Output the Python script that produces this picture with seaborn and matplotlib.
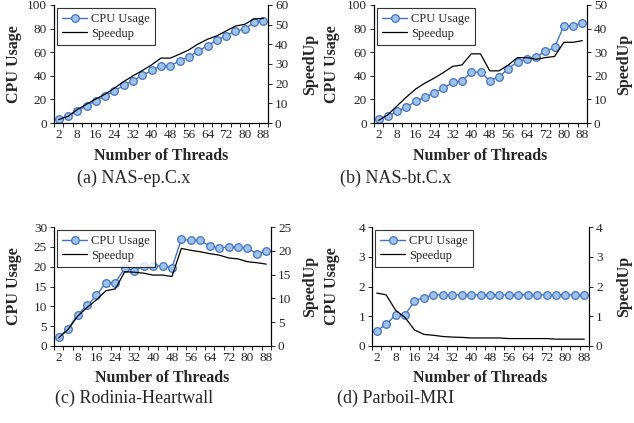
import matplotlib
matplotlib.use('Agg')
import matplotlib.pyplot as plt
import seaborn as sns
import numpy as np

# --- Data ---
threads = [2, 4, 8, 12, 16, 20, 24, 28, 32, 36, 40, 44,
           48, 52, 56, 60, 64, 68, 72, 76, 80, 84, 88]
tick_labels = [2, 8, 16, 24, 32, 40, 48, 56, 64, 72, 80, 88]

ep_cpu = [3.7, 5.6, 9.9, 14.6, 18.9, 23.0, 27.3, 31.8, 36.0, 40.3, 44.5, 48.5,
          48.5, 52.7, 56.3, 61.0, 65.6, 70.0, 74.0, 78.0, 79.4, 85.6, 86.8]
ep_speedup = [1.7, 3.4, 6.8, 9.6, 12.2, 14.7, 17.7, 21.1, 24.0, 26.7, 29.6, 33.0,
              33.0, 35.0, 37.2, 40.2, 42.6, 44.3, 46.8, 49.3, 50.2, 52.9, 53.2]

bt_cpu = [3.7, 5.6, 9.9, 13.5, 18.3, 22.0, 25.4, 29.6, 34.4, 35.8, 42.8, 43.4,
          35.8, 39.4, 45.9, 52.1, 54.4, 56.3, 60.6, 64.0, 82.5, 82.5, 85.0]
bt_speedup = [1.1, 3.5, 7.3, 11.0, 14.4, 16.9, 19.0, 21.4, 24.0, 24.6, 29.3, 29.3,
              22.1, 22.1, 24.6, 27.7, 27.7, 27.0, 27.7, 28.2, 34.2, 34.2, 34.9]

hw_cpu = [2.3, 4.3, 7.9, 10.25, 12.75, 16.0, 16.0, 19.6, 18.9, 20.25, 20.2, 20.2,
          19.75, 26.9, 26.6, 26.6, 25.2, 24.7, 25.0, 25.0, 24.7, 23.2, 23.9]
hw_speedup = [1.7, 3.5, 6.25, 8.1, 9.7, 11.6, 12.0, 15.6, 15.5, 15.3, 14.9, 14.9,
              14.6, 20.5, 20.1, 19.8, 19.4, 19.1, 18.5, 18.3, 17.7, 17.5, 17.2]

mri_cpu = [0.51, 0.73, 1.04, 1.04, 1.52, 1.63, 1.72, 1.72, 1.72, 1.72, 1.72, 1.72,
           1.72, 1.72, 1.72, 1.72, 1.72, 1.72, 1.72, 1.72, 1.72, 1.72, 1.72]
mri_speedup = [1.78, 1.72, 1.20, 0.96, 0.54, 0.39, 0.36, 0.32, 0.30, 0.29, 0.27, 0.27,
               0.27, 0.27, 0.25, 0.25, 0.25, 0.25, 0.25, 0.23, 0.23, 0.23, 0.23]

captions = ['(a) NAS-ep.C.x', '(b) NAS-bt.C.x',
            '(c) Rodinia-Heartwall', '(d) Parboil-MRI']

panels = [
    (ep_cpu, ep_speedup, (0, 100, 20), (0, 60, 10)),
    (bt_cpu, bt_speedup, (0, 100, 20), (0, 50, 10)),
    (hw_cpu, hw_speedup, (0, 30, 5), (0, 25, 5)),
    (mri_cpu, mri_speedup, (0, 4, 1), (0, 4, 1)),
]

sns.set_theme(style='white')
plt.rcParams['font.family'] = ['Liberation Serif', 'DejaVu Serif']
plt.rcParams['axes.linewidth'] = 0.8

W, H = 634, 423
fig = plt.figure(figsize=(W / 100, H / 100), dpi=100)

# axes boxes in pixels: left, top, right, bottom
boxes = [(54, 5, 268, 123), (374, 5, 587, 123),
         (54, 227, 271, 346), (372, 227, 589, 346)]
cap_pos = [(134, 178), (396, 178), (134, 398), (396, 398)]
# x pixel centre of the left / right y labels
ylab_x = [(14, 310), (332, 624), (14, 310), (332, 624)]

line_blue = '#4472C4'
face_blue = '#9DC3E6'

xpos = np.arange(len(threads))

for i, (cpu, spd, lrng, rrng) in enumerate(panels):
    l, t, r, b = boxes[i]
    ax = fig.add_axes([l / W, 1 - b / H, (r - l) / W, (b - t) / H])
    ax2 = ax.twinx()

    sns.lineplot(x=xpos, y=cpu, ax=ax, color=line_blue, lw=1.0,
                 marker='o', markersize=5.5, markerfacecolor=face_blue,
                 markeredgecolor=line_blue, markeredgewidth=0.9,
                 label='CPU Usage', legend=False)
    sns.lineplot(x=xpos, y=spd, ax=ax2, color='black', lw=0.9,
                 label='Speedup', legend=False)

    ax.set_xlim(-0.5, len(threads) - 0.5)
    ax.set_ylim(lrng[0], lrng[1])
    ax2.set_ylim(rrng[0], rrng[1])
    ax.set_yticks(np.arange(lrng[0], lrng[1] + 0.001, lrng[2]))
    ax2.set_yticks(np.arange(rrng[0], rrng[1] + 0.001, rrng[2]))
    ax.set_xticks(xpos[::2])
    ax.set_xticklabels([str(v) for v in tick_labels])
    ax.set_xticks(np.arange(-0.5, len(threads), 1), minor=True)

    for a in (ax, ax2):
        a.spines['top'].set_visible(False)
        for s in ('left', 'right', 'bottom'):
            a.spines[s].set_color('black')
            a.spines[s].set_linewidth(0.8)
    ax.tick_params(axis='x', which='major', length=0, labelsize=9.5, pad=4)
    ax.tick_params(axis='x', which='minor', length=3, width=0.6, color='black',
                   bottom=True)
    ax.tick_params(axis='y', length=3, width=0.6, color='black', left=True,
                   labelsize=9.5, pad=2)
    ax2.tick_params(axis='y', length=3, width=0.6, color='black', right=True,
                    labelsize=9.5, pad=2)

    ax.set_xlabel('Number of Threads', fontsize=11.5, fontweight='bold',
                  labelpad=5)
    ax.set_ylabel('CPU Usage', fontsize=11.5, fontweight='bold')
    ax2.set_ylabel('SpeedUp', fontsize=11.5, fontweight='bold')
    ax.yaxis.set_label_coords((ylab_x[i][0] - l) / (r - l), 0.5)
    ax2.yaxis.set_label_coords((ylab_x[i][1] - l) / (r - l), 0.5)
    ax.yaxis.label.set_va('center')
    ax2.yaxis.label.set_va('center')

    h1, l1 = ax.get_legend_handles_labels()
    h2, l2 = ax2.get_legend_handles_labels()
    leg = ax2.legend(h1 + h2, l1 + l2, loc='upper left', fontsize=9,
                     frameon=True, fancybox=False, edgecolor='black',
                     borderaxespad=0.25, handlelength=2.0, handletextpad=0.3,
                     labelspacing=0.2, borderpad=0.4)
    leg.get_frame().set_linewidth(0.8)

    cx, cy = cap_pos[i]
    fig.text(cx / W, 1 - cy / H, captions[i], ha='center', va='center',
             fontsize=13)

fig.savefig('out.png', dpi=100)
